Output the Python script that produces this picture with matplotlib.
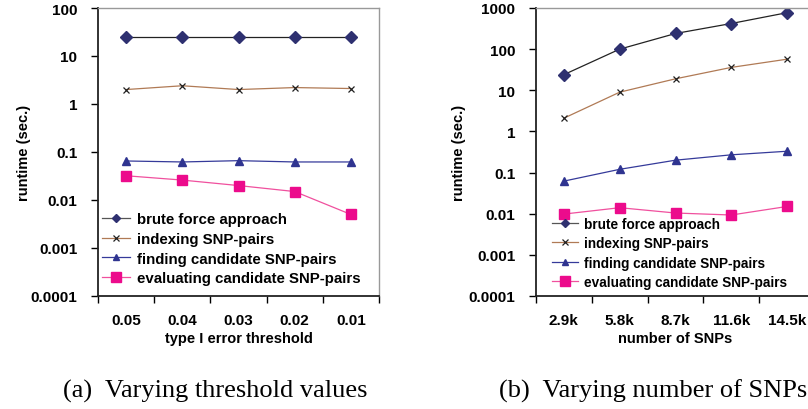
import matplotlib
matplotlib.use("Agg")
import matplotlib.pyplot as plt
from matplotlib.ticker import FixedLocator, NullFormatter, FixedFormatter

# values
thresholds = ['0.05', '0.04', '0.03', '0.02', '0.01']
snp_counts = ['2.9k', '5.8k', '8.7k', '11.6k', '14.5k']

a_brute = [25, 25, 25, 25, 25]
a_index = [2.0, 2.4, 2.0, 2.2, 2.1]
a_find = [0.065, 0.062, 0.066, 0.062, 0.062]
a_eval = [0.032, 0.026, 0.020, 0.015, 0.005]

b_brute = [24, 100, 240, 420, 770]
b_index = [2.1, 9, 19, 36, 57]
b_find = [0.062, 0.12, 0.2, 0.27, 0.33]
b_eval = [0.0098, 0.014, 0.0104, 0.0093, 0.015]

names = ['brute force approach', 'indexing SNP-pairs',
         'finding candidate SNP-pairs', 'evaluating candidate SNP-pairs']

plt.rcParams['font.family'] = ['Liberation Sans', 'DejaVu Sans']
plt.rcParams['font.weight'] = 'bold'

W, H = 808, 410
fig = plt.figure(figsize=(W / 100, H / 100), dpi=100)


def panel(rect, cats, series, ylo, yhi, xlabel, yticks, ylab_x, leg_anchor, leg_fs, leg_sp):
    ax = fig.add_axes(rect)
    x = list(range(len(cats)))
    ax.plot(x, series[0], color='#222222', lw=0.9, marker='D', ms=6.2,
            mfc='#2e3070', mec='#2e3070', label=names[0])
    ax.plot(x, series[1], color='#b07a55', lw=0.9, marker='x', ms=5,
            mec='#202020', mew=0.9, label=names[1])
    ax.plot(x, series[2], color='#353a9a', lw=0.9, marker='^', ms=5.5,
            mfc='#2f3490', mec='#2f3490', label=names[2])
    ax.plot(x, series[3], color='#f0509e', lw=0.9, marker='s', ms=7.5,
            mfc='#ec0b8c', mec='#ec0b8c', label=names[3])
    ax.set_yscale('log')
    ax.set_ylim(ylo, yhi)
    ax.set_xlim(-0.5, len(cats) - 0.5)
    ax.yaxis.set_major_locator(FixedLocator(yticks))
    ax.yaxis.set_major_formatter(FixedFormatter([('%g' % t) for t in yticks]))
    ax.yaxis.set_minor_locator(FixedLocator([]))
    ax.xaxis.set_major_locator(FixedLocator([i - 0.5 for i in range(len(cats) + 1)]))
    ax.xaxis.set_major_formatter(NullFormatter())
    ax.xaxis.set_minor_locator(FixedLocator(x))
    ax.xaxis.set_minor_formatter(FixedFormatter(cats))
    ax.tick_params(axis='x', which='major', direction='out', length=5, width=1)
    ax.tick_params(axis='x', which='minor', length=0, pad=12, labelsize=11)
    ax.tick_params(axis='y', direction='out', length=5, width=1, labelsize=11, pad=10)
    for s in ['top', 'right']:
        ax.spines[s].set_color('#999999')
        ax.spines[s].set_linewidth(1)
    for s in ['left', 'bottom']:
        ax.spines[s].set_color('#222222')
        ax.spines[s].set_linewidth(1.3)
    ax.set_xlabel(xlabel, fontsize=10.5, fontweight='bold', labelpad=3)
    ax.set_ylabel('runtime (sec.)', fontsize=10.5, fontweight='bold')
    ax.yaxis.set_label_coords(ylab_x, 0.5)
    handles, labels = ax.get_legend_handles_labels()
    leg = ax.legend(handles, labels, loc='upper left', bbox_to_anchor=leg_anchor,
                    frameon=False, fontsize=leg_fs, handlelength=1.9,
                    handletextpad=0.45, labelspacing=leg_sp, borderaxespad=0,
                    borderpad=0)
    leg.legend_handles[0].set_color('#555555')
    for h in leg.legend_handles[:3]:
        h.set_markersize(4.5)
    return ax


panel([98 / W, 1 - 297 / H, 281 / W, 288 / H], thresholds,
      [a_brute, a_index, a_find, a_eval], 0.0001, 100,
      'type I error threshold', [0.0001, 0.001, 0.01, 0.1, 1, 10, 100],
      -0.24, (0.014, 0.29), 10.8, 0.37)

panel([536 / W, 1 - 297 / H, 279 / W, 288 / H], snp_counts,
      [b_brute, b_index, b_find, b_eval], 0.0001, 1000,
      'number of SNPs', [0.0001, 0.001, 0.01, 0.1, 1, 10, 100, 1000],
      -0.25, (0.057, 0.275), 9.8, 0.4)

fig.text(215 / W, 1 - 398 / H, '(a)  Varying threshold values',
         family='Liberation Serif', fontweight='normal', fontsize=19,
         ha='center', va='baseline')
fig.text(653 / W, 1 - 398 / H, '(b)  Varying number of SNPs',
         family='Liberation Serif', fontweight='normal', fontsize=19,
         ha='center', va='baseline')

fig.savefig('out.png', dpi=100)
